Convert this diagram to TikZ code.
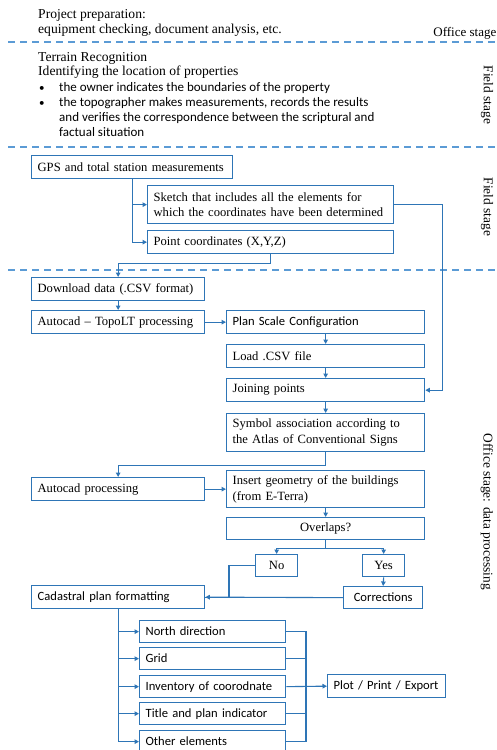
\documentclass[tikz,border=0pt]{standalone}
\usepackage{fontspec}
\setmainfont{Liberation Serif}
\newfontfamily\calib{Carlito}
\usetikzlibrary{arrows.meta}
\definecolor{bblue}{HTML}{2E75B6}
\definecolor{dblue}{HTML}{5B9BD5}
\begin{document}
\begin{tikzpicture}[x=1pt,y=-1pt,
  bx/.style={draw=bblue, line width=1.3pt, anchor=north west, inner xsep=6pt, inner ysep=0pt, align=left, font=\fontsize{12.6}{15.5}\selectfont, execute at begin node={\hyphenpenalty=10000\relax}},
  sbx/.style={bx, font=\calib\fontsize{12.6}{15.5}\selectfont},
  cbx/.style={draw=bblue, line width=1.3pt, anchor=north west, inner xsep=0pt, inner ysep=0pt, align=center, font=\fontsize{12.6}{15.5}\selectfont},
  ln/.style={draw=bblue, line width=1.1pt},
  arr/.style={ln, -{Triangle[length=4.5pt,width=4.5pt]}},
  dsh/.style={draw=dblue, line width=1.3pt, dash pattern=on 7pt off 5pt},
  lbl/.style={font=\fontsize{13.6}{15}\selectfont, inner sep=0pt, anchor=base west},
  slbl/.style={lbl, font=\calib\fontsize{13}{15}\selectfont},
  side/.style={font=\fontsize{13.4}{15}\selectfont, inner sep=0pt, rotate=-90}
]
\fill[white] (0,0) rectangle (497,750);
\useasboundingbox (0,0) rectangle (497,750);

% top texts
\node[lbl] (pp1) at (38,18.5) {Project preparation:};
\node[lbl] (pp2) at (38,33) {equipment checking, document analysis, etc.};
\node[lbl, anchor=base east, font=\fontsize{13}{15}\selectfont] (off) at (496.5,36) {Office stage};
\draw[dsh] (8,42) -- (497,42);
\node[lbl] (tr1) at (38,61) {Terrain Recognition};
\node[lbl] (tr2) at (38,75.5) {Identifying the location of properties};
\node[slbl, font=\calib\fontsize{11}{15}\selectfont] (b1) at (39,91) {•};
\node[slbl] (t1) at (59,91) {the owner indicates the boundaries of the property};
\node[slbl, font=\calib\fontsize{11}{15}\selectfont] (b2) at (39,106) {•};
\node[slbl] (t2) at (59,106) {the topographer makes measurements, records the results};
\node[slbl] (t3) at (59,121) {and verifies the correspondence between the scriptural and};
\node[slbl] (t4) at (59,136) {factual situation};
\node[side] (fs1) at (487,95) {Field stage};
\draw[dsh] (8,147) -- (497,147);

% field stage boxes
\node[bx, text width=189pt, minimum height=23pt] (gps) at (31,155) {GPS and total station measurements};
\node[bx, text width=234pt, minimum height=38pt] (sketch) at (147,185) {Sketch that includes all the elements for\\which the coordinates have been determined};
\node[bx, text width=234pt, minimum height=23pt] (point) at (147,230) {Point coordinates (X,Y,Z)};
\node[side] (fs2) at (487,207) {Field stage};
\draw[dsh] (8,270) -- (497,270);

% office stage
\node[bx, text width=161pt, minimum height=23pt] (download) at (31,277) {Download data (.CSV format)};
\node[bx, text width=161pt, minimum height=23pt] (topolt) at (31,310) {Autocad – TopoLT processing};
\node[sbx, text width=186pt, minimum height=23pt] (planscale) at (226,310) {Plan Scale Configuration};
\node[bx, text width=186pt, minimum height=23pt] (load) at (226,344) {Load .CSV file};
\node[bx, text width=186pt, minimum height=23pt] (join) at (226,378) {Joining points};
\node[bx, text width=186pt, minimum height=38pt] (symbol) at (226,413) {Symbol association according to\\the Atlas of Conventional Signs};
\node[bx, text width=161pt, minimum height=23pt] (autoproc) at (31,477) {Autocad processing};
\node[bx, text width=186pt, minimum height=37pt] (insert) at (226,470) {Insert geometry of the buildings\\(from E-Terra)};
\node[cbx, minimum width=198pt, minimum height=22pt] (overlaps) at (226,517) {Overlaps?};
\node[cbx, minimum width=42pt, minimum height=22pt] (no) at (255,554) {No};
\node[cbx, minimum width=42pt, minimum height=22pt] (yes) at (362,554) {Yes};
\node[cbx, font=\calib\fontsize{12.6}{15.5}\selectfont, minimum width=79pt, minimum height=22pt] (corrections) at (343,586) {Corrections};
\node[sbx, text width=161pt, minimum height=23pt] (cadastral) at (31,585) {Cadastral plan formatting};
\node[sbx, text width=134pt, minimum height=22pt] (north) at (139,620) {North direction};
\node[sbx, text width=134pt, minimum height=22pt] (grid) at (139,647) {Grid};
\node[sbx, text width=134pt, minimum height=22pt] (inventory) at (139,675) {Inventory of coorodnate};
\node[sbx, text width=134pt, minimum height=22pt] (title) at (139,702) {Title and plan indicator};
\node[sbx, text width=134pt, minimum height=22pt] (other) at (139,730) {Other elements};
\node[sbx, text width=106pt, minimum height=23pt] (plot) at (327,674) {Plot / Print / Export};
\node[side] (os) at (487,512) {Office stage: data processing};

% connectors
\draw[arr] (gps.south) |- (sketch.west);
\draw[arr] (gps.south) |- (point.west);
\draw[arr] (sketch.east) -- ++(48,0) |- (join.east);
\draw[arr] (point.south) -- ++(0,9) -| (download.north);
\draw[arr] (download.south) -- (topolt.north);
\draw[arr] (topolt.east) -- (planscale.west);
\draw[arr] (planscale.south) -- (load.north);
\draw[arr] (load.south) -- (join.north);
\draw[arr] (join.south) -- (symbol.north);
\draw[arr] (symbol.south) -- ++(0,13) -| (autoproc.north);
\draw[arr] (autoproc.east) -- (insert.west);
\draw[arr] (insert.south) -- (overlaps.north);
\draw[arr] (overlaps.south) -- ++(0,8) -| (no.north);
\draw[arr] (overlaps.south) -- ++(0,8) -| (yes.north);
\draw[arr] (yes.south) -- (corrections.north);
\draw[ln] (no.west) -- ++(-26,0) |- (cadastral.east);
\draw[arr] (corrections.west) -- (cadastral.east);
\draw[arr] (cadastral.south) |- (north.west);
\draw[arr] (cadastral.south) |- (grid.west);
\draw[arr] (cadastral.south) |- (inventory.west);
\draw[arr] (cadastral.south) |- (title.west);
\draw[arr] (cadastral.south) |- (other.west);
\coordinate (bus) at (306,686);
\draw[ln] (north.east) -| (bus);
\draw[ln] (other.east) -| (bus);
\draw[ln] (grid.east) -- (grid.east -| bus);
\draw[ln] (title.east) -- (title.east -| bus);
\draw[arr] (inventory.east) -- (plot.west);
\end{tikzpicture}
\end{document}
